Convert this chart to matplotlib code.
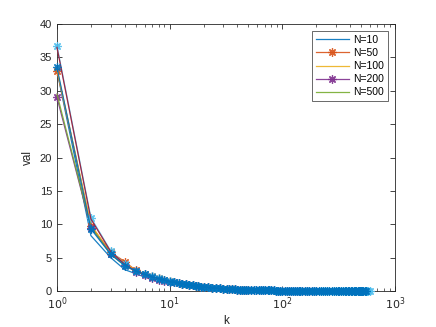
import matplotlib
matplotlib.use("Agg")
import matplotlib.pyplot as plt

# ---- data ----
head_k = [1, 2, 3, 4, 5, 6, 7, 8, 9, 10]
tail_k = [11, 12, 13, 14, 15, 16, 17, 18, 19, 20,
          22, 24, 26, 28, 30, 32, 34, 36, 38, 40,
          42, 44, 46, 48, 50, 53, 56, 59, 62, 65, 68, 71, 74, 77, 80,
          84, 88, 92, 96, 100, 105, 110, 115, 120, 125, 130, 135, 140, 145, 150,
          158, 166, 174, 182, 190, 200, 210, 220, 230, 240, 250,
          262, 274, 286, 298, 310, 322, 334, 346, 358, 370, 382, 394, 406,
          418, 430, 442, 454, 466, 478, 490, 502, 514, 526, 538, 550, 565, 580, 600]
tail_v = [1.35, 1.2, 1.1, 1.0, 0.92, 0.85, 0.78, 0.72, 0.67, 0.62,
          0.54, 0.48, 0.43, 0.38, 0.34, 0.31, 0.28, 0.26, 0.24, 0.22,
          0.21, 0.20, 0.18, 0.17, 0.16, 0.15, 0.14, 0.13, 0.12, 0.11, 0.105, 0.10, 0.095, 0.09, 0.085,
          0.08, 0.075, 0.07, 0.065, 0.06, 0.056, 0.052, 0.05, 0.048, 0.046, 0.045, 0.043, 0.042, 0.041, 0.04,
          0.038, 0.036, 0.035, 0.034, 0.033, 0.031, 0.03, 0.029, 0.028, 0.027, 0.026,
          0.025, 0.024, 0.023, 0.022, 0.021, 0.021, 0.02, 0.02, 0.019, 0.019, 0.018, 0.018, 0.017,
          0.017, 0.016, 0.016, 0.015, 0.015, 0.015, 0.014, 0.014, 0.014, 0.013, 0.013, 0.013, 0.012, 0.012, 0.011]

labels = ["N=10", "N=50", "N=100", "N=200", "N=500", None, None, None]
lengths = [10, 50, 100, 200, 500, 600, 550, 550]
heads = [
    [33.0, 8.3, 5.0, 3.2, 2.6, 2.1, 1.8, 1.6, 1.4, 1.3],
    [33.0, 9.8, 5.8, 4.4, 3.1, 2.6, 2.3, 2.0, 1.7, 1.5],
    [33.2, 9.9, 5.7, 4.2, 3.1, 2.5, 2.2, 1.9, 1.6, 1.45],
    [29.0, 9.5, 5.6, 3.9, 2.9, 2.4, 2.0, 1.7, 1.45, 1.3],
    [29.5, 9.6, 5.5, 3.8, 3.0, 2.5, 2.1, 1.8, 1.55, 1.4],
    [36.7, 11.0, 6.0, 4.0, 3.0, 2.5, 2.2, 1.9, 1.6, 1.45],
    [36.5, 10.8, 5.9, 4.0, 3.0, 2.5, 2.1, 1.85, 1.6, 1.4],
    [33.5, 9.3, 5.5, 3.8, 3.0, 2.5, 2.1, 1.85, 1.6, 1.4],
]
colors = ["#0072BD", "#D95319", "#EDB120", "#7E2F8E", "#77AC30",
          "#4DBEEE", "#A2142F", "#0072BD"]
markers = [None, (8, 2, 0), None, (8, 2, 0), None, (8, 2, 0), None, (8, 2, 0)]

# ---- plot ----
plt.rcParams["font.family"] = ["Liberation Sans", "DejaVu Sans"]
fig = plt.figure(figsize=(4.36, 3.27), dpi=100)
ax = fig.add_axes([0.1307, 0.110, 0.775, 0.8165])

for i in range(len(heads)):
    k = head_k + [t for t in tail_k if t <= lengths[i]]
    v = heads[i] + [tv for t, tv in zip(tail_k, tail_v) if t <= lengths[i]]
    k = k[:lengths[i]]
    v = v[:len(k)]
    ax.plot(k, v, color=colors[i], lw=0.9, marker=markers[i], ms=6,
            mew=0.9, mec=colors[i], alpha=0.9, label=labels[i],
            clip_on=False, zorder=3)

ax.set_xscale("log")
ax.set_xlim(1, 1000)
ax.set_ylim(0, 40)
ax.set_yticks(range(0, 41, 5))
ax.set_xticks([1, 10, 100, 1000])
ax.set_xticklabels([r"$10^0$", r"$10^1$", r"$10^2$", r"$10^3$"])
axc = "#262626"
ax.tick_params(which="both", direction="in", top=True, right=True,
               colors=axc, labelsize=8, labelcolor=axc)
ax.tick_params(which="major", length=3.5, width=0.6)
ax.tick_params(which="minor", length=2, width=0.5)
for s in ax.spines.values():
    s.set_color(axc)
    s.set_linewidth(0.6)
ax.set_xlabel("k", fontsize=8.5, color=axc, labelpad=2)
ax.set_ylabel("val", fontsize=8.5, color=axc, labelpad=4)

handles, labs = ax.get_legend_handles_labels()
leg = ax.legend(handles[:5], labs[:5], loc="upper right", fontsize=7.5,
                frameon=True, fancybox=False, edgecolor=axc,
                borderaxespad=0.7, handlelength=3.2, labelspacing=0.3,
                handletextpad=0.4, borderpad=0.35)
leg.get_frame().set_linewidth(0.6)
leg.set_zorder(5)

fig.savefig("out.png", dpi=100)
